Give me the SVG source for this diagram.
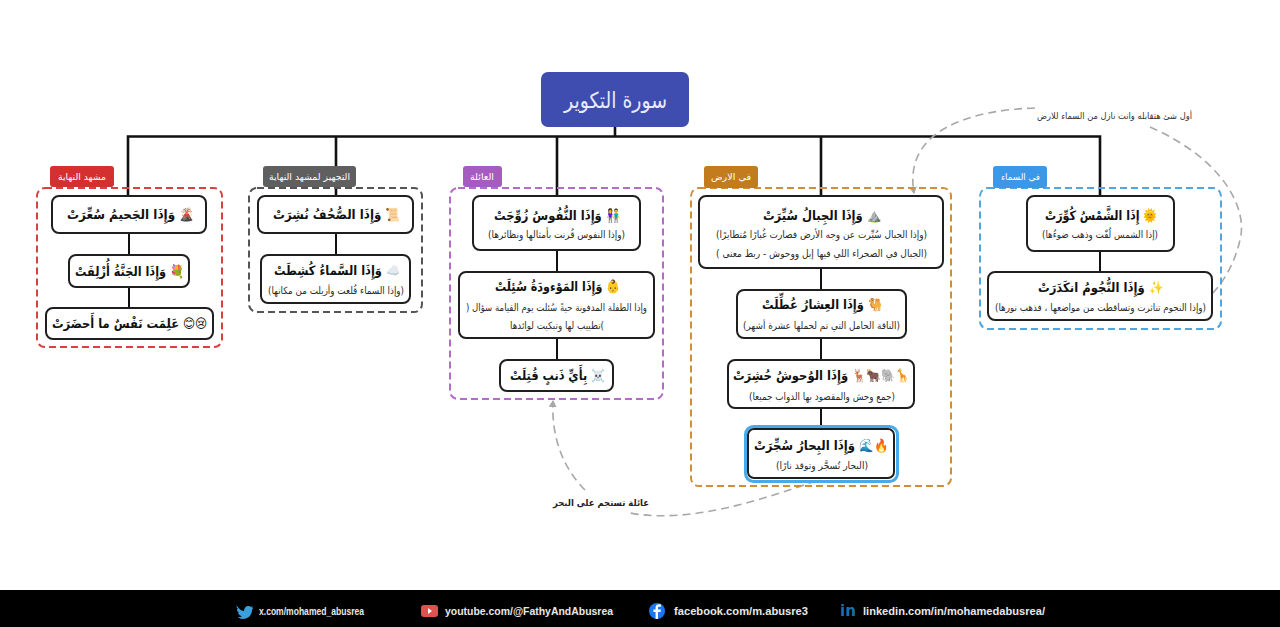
<svg xmlns="http://www.w3.org/2000/svg" width="1280" height="627" viewBox="0 0 1280 627">
<style>
text{font-family:"DejaVu Sans","Noto Sans",sans-serif;direction:rtl;text-anchor:middle}
.n{fill:#fff;stroke:#1f1f1f;stroke-width:2}
.g{fill:none;stroke-width:2;stroke-dasharray:7 4}
.t{font-size:13px;font-weight:700;fill:#111}
.s{font-size:10px;fill:#2a2a2a}
.l{font-size:9px;fill:#fff}
.c{fill:none;stroke:#111}
.d{fill:none;stroke:#a8a8a8;stroke-width:1.6;stroke-dasharray:8 5}
.f{font-family:"Liberation Sans",sans-serif;font-size:11px;font-weight:700;fill:#e8e8e8;direction:ltr;text-anchor:start}
</style>
<defs><marker id="a" markerWidth="8" markerHeight="8" refX="6" refY="4" orient="auto" markerUnits="userSpaceOnUse"><path d="M0 0L7 4L0 8Z" fill="#a8a8a8"/></marker></defs>
<rect width="1280" height="627" fill="#fff"/>
<g id="connectors">
<path class="c" stroke-width="2.600" d="M615 127V136.500M128 196V136.500H1100V196M336 136.500V196M557 136.500V196M821 136.500V196"/>
<path class="c" stroke-width="2" d="M1100 251V272M821 268V290M821 338V360M821 408V429M557 250V272M557 338V360M336 233V255M129 233V255M129 287V308"/>
<path class="d" marker-end="url(#a)" d="M1035 108C970 110 903 130 914 193"/>
<path class="d" d="M1150 127C1225 160 1248 210 1240 240C1235 262 1225 280 1212 294"/>
<path class="d" d="M816 481C760 500 690 524 630 513"/>
<path class="d" marker-end="url(#a)" d="M585 490C565 470 551 440 553 401"/>
</g>
<g id="root"><rect x="541" y="72" width="148" height="55" rx="7" fill="#3f4cb0"/><text x="615.500" y="108" font-size="22" fill="#e8ebfa" textLength="103" lengthAdjust="spacingAndGlyphs">سورة التكوير</text></g>

<g id="sky"><rect class="g" x="980" y="188" width="241" height="141" rx="8" stroke="#4fa6e0"/><rect x="993" y="166" width="54" height="22" rx="3" fill="#3b97e8"/><text class="l" x="1020.500" y="180" textLength="39" lengthAdjust="spacingAndGlyphs">في السماء</text></g>
<g id="earth"><rect class="g" x="691" y="188" width="260" height="298" rx="8" stroke="#cf8f3a"/><rect x="704" y="166" width="54" height="22" rx="3" fill="#c27c1e"/><text class="l" x="731" y="180" textLength="40" lengthAdjust="spacingAndGlyphs">في الارض</text></g>
<g id="family"><rect class="g" x="450" y="188" width="213" height="211" rx="8" stroke="#b56cc8"/><rect x="463" y="166" width="39" height="21" rx="3" fill="#a45cc0"/><text class="l" x="482" y="180" textLength="24" lengthAdjust="spacingAndGlyphs">العائلة</text></g>
<g id="prep"><rect class="g" x="249" y="188" width="173" height="124" rx="8" stroke="#555"/><rect x="263" y="166" width="93" height="21" rx="3" fill="#5f5f5f"/><text class="l" x="309.500" y="180" textLength="81" lengthAdjust="spacingAndGlyphs">التجهيز لمشهد النهاية</text></g>
<g id="end"><rect class="g" x="37" y="188" width="185" height="159" rx="8" stroke="#d8413f"/><rect x="50" y="166" width="64" height="21" rx="3" fill="#d3302f"/><text class="l" x="82" y="180" textLength="48" lengthAdjust="spacingAndGlyphs">مشهد النهاية</text></g>

<g id="n-shams"><rect class="n" x="1027" y="196" width="147" height="55" rx="7"/><text class="t" x="1101" y="220" textLength="112" lengthAdjust="spacingAndGlyphs">🌞 إِذَا الشَّمْسُ كُوِّرَتْ</text><text class="s" x="1100" y="238" textLength="116" lengthAdjust="spacingAndGlyphs">(إذا الشمس لُفّت وذهب ضوءُها)</text></g>
<g id="n-nujum"><rect class="n" x="988" y="272" width="224" height="48" rx="7"/><text class="t" x="1100.500" y="292" textLength="125" lengthAdjust="spacingAndGlyphs">✨ وَإِذَا النُّجُومُ انكَدَرَتْ</text><text class="s" x="1100.500" y="311" textLength="211" lengthAdjust="spacingAndGlyphs">(وإذا النجوم تناثرت وتساقطت من مواضعها ، فذهب نورها)</text></g>

<g id="n-jibal"><rect class="n" x="699" y="196" width="244" height="72" rx="7"/><text class="t" x="822" y="220" textLength="118" lengthAdjust="spacingAndGlyphs">⛰️ وَإِذَا الجِبالُ سُيِّرَتْ</text><text class="s" x="821.500" y="238" textLength="211" lengthAdjust="spacingAndGlyphs">(وإذا الجبال سُيِّرت عن وجه الأرض فصارت غُبارًا مُتطايرًا)</text><text class="s" x="821.500" y="257" textLength="211" lengthAdjust="spacingAndGlyphs">(الجبال في الصحراء اللي فيها إبل ووحوش - ربط معنى )</text></g>
<g id="n-ishar"><rect class="n" x="737" y="290" width="169" height="48" rx="7"/><text class="t" x="822" y="309" textLength="120" lengthAdjust="spacingAndGlyphs">🐫 وَإِذَا العِشارُ عُطِّلَتْ</text><text class="s" x="821.500" y="329" textLength="157" lengthAdjust="spacingAndGlyphs">(الناقة الحامل التي تم لحملها عشرة أشهر)</text></g>
<g id="n-wuhush"><rect class="n" x="728" y="360" width="186" height="48" rx="7"/><text class="t" x="821" y="380" textLength="176" lengthAdjust="spacingAndGlyphs">🦒🐘🐂🦌 وَإِذَا الوُحوشُ حُشِرَتْ</text><text class="s" x="822" y="400" textLength="146" lengthAdjust="spacingAndGlyphs">(جمع وحش والمقصود بها الدواب جميعا)</text></g>
<g id="n-bihar"><rect x="745.500" y="426.500" width="152" height="55" rx="8" fill="none" stroke="#4aa9e8" stroke-width="3"/><rect class="n" x="748" y="429" width="146" height="49" rx="6"/><text class="t" x="821" y="450" textLength="134" lengthAdjust="spacingAndGlyphs">🔥🌊 وَإِذَا البِحارُ سُجِّرَتْ</text><text class="s" x="822" y="469" textLength="92" lengthAdjust="spacingAndGlyphs">(البحار تُسجَّر وتوقد نارًا)</text></g>

<g id="n-nufus"><rect class="n" x="473" y="196" width="167" height="54" rx="7"/><text class="t" x="557" y="220" textLength="126" lengthAdjust="spacingAndGlyphs">👫 وَإِذَا النُّفُوسُ زُوِّجَتْ</text><text class="s" x="556.500" y="238" textLength="137" lengthAdjust="spacingAndGlyphs">(وإذا النفوس قُرنت بأمثالها ونظائرها)</text></g>
<g id="n-mawuda"><rect class="n" x="459" y="272" width="195" height="66" rx="7"/><text class="t" x="557.500" y="291" textLength="125" lengthAdjust="spacingAndGlyphs">👶 وَإِذَا المَوْءودَةُ سُئِلَتْ</text><text class="s" x="556.500" y="311" textLength="181" lengthAdjust="spacingAndGlyphs">وإذا الطفلة المدفونة حيةً سُئلت يوم القيامة سؤال (</text><text class="s" x="557" y="329" textLength="94" lengthAdjust="spacingAndGlyphs">)تطييب لها وتبكيت لوائدها</text></g>
<g id="n-qutilat"><rect class="n" x="500" y="360" width="113" height="31" rx="7"/><text class="t" x="557.500" y="380" textLength="95" lengthAdjust="spacingAndGlyphs">☠️ بِأَيِّ ذَنبٍ قُتِلَتْ</text></g>

<g id="n-suhuf"><rect class="n" x="258" y="196" width="155" height="37" rx="7"/><text class="t" x="336.500" y="219" textLength="127" lengthAdjust="spacingAndGlyphs">📜 وَإِذَا الصُّحُفُ نُشِرَتْ</text></g>
<g id="n-sama"><rect class="n" x="261" y="255" width="149" height="48" rx="7"/><text class="t" x="337" y="275" textLength="126" lengthAdjust="spacingAndGlyphs">☁️ وَإِذَا السَّماءُ كُشِطَتْ</text><text class="s" x="336" y="294" textLength="136" lengthAdjust="spacingAndGlyphs">(وإذا السماء قُلعت وأزيلت من مكانها)</text></g>

<g id="n-jahim"><rect class="n" x="52" y="196" width="154" height="37" rx="7"/><text class="t" x="130.500" y="219" textLength="127" lengthAdjust="spacingAndGlyphs">🌋 وَإِذَا الجَحيمُ سُعِّرَتْ</text></g>
<g id="n-janna"><rect class="n" x="69" y="255" width="120" height="32" rx="7"/><text class="t" x="129.500" y="276" textLength="109" lengthAdjust="spacingAndGlyphs">💐 وَإِذَا الجَنَّةُ أُزْلِفَتْ</text></g>
<g id="n-alimat"><rect class="n" x="46" y="308" width="167" height="31" rx="7"/><text class="t" x="129.500" y="328" textLength="155" lengthAdjust="spacingAndGlyphs">😢😊 عَلِمَت نَفْسٌ ما أَحضَرَتْ</text></g>

<text x="1114.500" y="119" font-size="9" fill="#333" textLength="155" lengthAdjust="spacingAndGlyphs">أول شئ هتقابله وانت نازل من السماء للارض</text>
<text x="601" y="506" font-size="9" font-weight="700" fill="#222" textLength="96" lengthAdjust="spacingAndGlyphs">عائلة تستجم على البحر</text>

<g id="footer"><rect y="590" width="1280" height="37" fill="#000"/>
<path fill="#3aa1e0" d="M237 606c2 3 5 5 7 5 0-3 2-5 4-5 1 0 2 0 3 1l2-1-1 2 1 0-1 2c0 5-4 9-9 9-2 0-4-1-5-2 2 0 3 0 4-1-2 0-3-1-4-3l1 0c-1-1-2-2-2-4l1 0c-1-1-2-2-1-4z"/>
<rect x="421" y="605" width="17" height="12" rx="3" fill="#e0524f"/><path fill="#fff" d="M428 608l4 3-4 3z"/>
<circle cx="657" cy="611" r="8" fill="#1877f2"/><path fill="#fff" d="M658 619v-7h2.500l.4-2.500H658V608c0-.8.300-1.200 1.300-1.200h1.600v-2.300c-2.800-.4-5.300 0-5.300 3v2h-2.200V612h2.200v7z"/>
<text x="840" y="616" font-family="Liberation Sans" font-weight="700" font-size="15" fill="#1a6fb0" style="direction:ltr;text-anchor:start">in</text>
<text class="f" x="259" y="615" textLength="105" lengthAdjust="spacingAndGlyphs">x.com/mohamed_abusrea</text>
<text class="f" x="445" y="615" textLength="168" lengthAdjust="spacingAndGlyphs">youtube.com/@FathyAndAbusrea</text>
<text class="f" x="674" y="615" textLength="134" lengthAdjust="spacingAndGlyphs">facebook.com/m.abusre3</text>
<text class="f" x="863" y="615" textLength="182" lengthAdjust="spacingAndGlyphs">linkedin.com/in/mohamedabusrea/</text>
</g>
</svg>
